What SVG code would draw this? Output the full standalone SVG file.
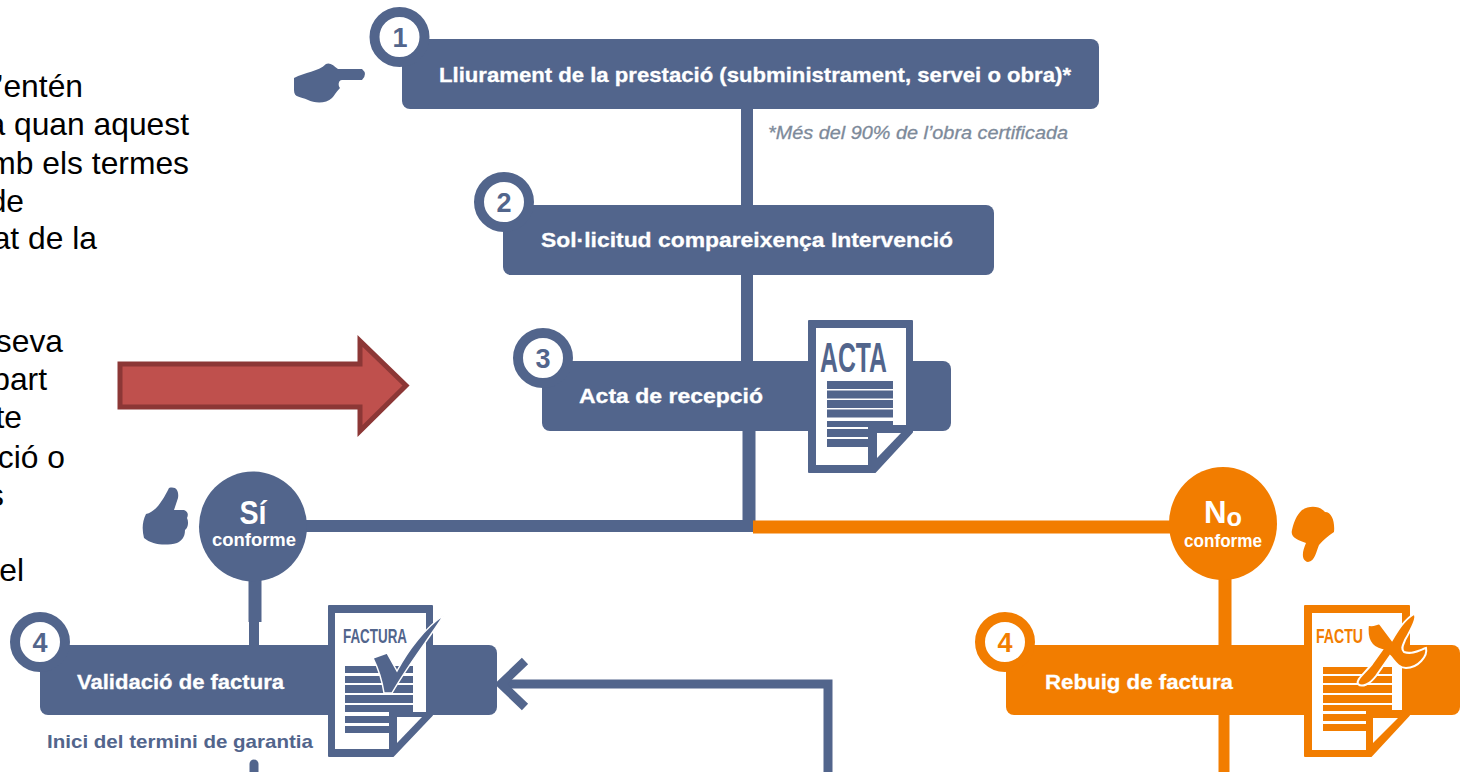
<svg xmlns="http://www.w3.org/2000/svg" width="1460" height="772" viewBox="0 0 1460 772">
<style>
text{font-family:"Liberation Sans",Arial,sans-serif}
.body{font-size:31.800px;fill:#000;text-anchor:end}
.lbl{font-size:21px;font-weight:700;fill:#fff;stroke:#fff;stroke-width:.3}
.num{font-size:27px;font-weight:700;text-anchor:middle}
.b{fill:#52658c}.o{fill:#f27d00}
.bs{stroke:#52658c;fill:none}.os{stroke:#f27d00;fill:none}
.w{fill:#fff}
.cond{font-weight:700}
</style>
<g id="body-text" class="body">
<text x="83" y="97">’entén</text>
<text x="189" y="135">a quan aquest</text>
<text x="189" y="174">mb els termes</text>
<text x="24" y="212">de</text>
<text x="97" y="249">at de la</text>
<text x="63" y="352">seva</text>
<text x="47" y="390">part</text>
<text x="22" y="428">te</text>
<text x="65" y="468">ció o</text>
<text x="4" y="506">s</text>
<text x="24" y="581">el</text>
</g>
<path id="red-arrow" d="M120 364H360V341L406 385.500L360 431V407H120Z" fill="#bf504d" stroke="#8c3736" stroke-width="5"/>
<g id="connectors">
<path class="bs" stroke-width="12" d="M747 105V210"/>
<path class="bs" stroke-width="12" d="M747 270V365"/>
<path class="bs" stroke-width="13" d="M749 425V527"/>
<path class="bs" stroke-width="12" d="M300 526H754"/>
<path class="os" stroke-width="13" d="M753 527H1175"/>
<path class="bs" stroke-width="13" d="M255 575V622"/><path class="bs" stroke-width="10" d="M254 620V650"/>
<path class="os" stroke-width="13" d="M1225 575V650"/>
<path class="os" stroke-width="11" d="M1224 710V772"/>
<path class="bs" stroke-width="9" d="M828 772V684H505"/>
<path class="bs" stroke-width="9" d="M525 661L501 684L525 707"/>
<path class="bs" stroke-width="9" stroke-linecap="round" d="M254 764V772"/>
</g>
<g id="node-1">
<rect class="b" x="402" y="39" width="697" height="70" rx="8"/>
<circle class="w" cx="399.500" cy="37" r="25" stroke="#52658c" stroke-width="10"/>
<text class="num b" x="400" y="47">1</text>
<text class="lbl" x="439" y="82" textLength="632" lengthAdjust="spacingAndGlyphs">Lliurament de la prestació (subministrament, servei o obra)*</text>
<path class="b" d="M294 78C305 72 318 72 326 64C330 62 334 66 338 69H362Q368 74 362 80H342C338 80 338 86 340 88C336 92 334 96 332 98C326 104 314 103 308 100C300 96 294 98 294 90Z"/>
<text x="768" y="139" font-size="18" font-style="italic" fill="#7d8a9a" stroke="#7d8a9a" stroke-width=".3" textLength="300" lengthAdjust="spacingAndGlyphs">*Més del 90% de l’obra certificada</text>
</g>
<g id="node-2">
<rect class="b" x="503" y="205" width="491" height="70" rx="8"/>
<circle class="w" cx="504" cy="202" r="25" stroke="#52658c" stroke-width="10"/>
<text class="num b" x="504" y="212">2</text>
<text class="lbl" x="541" y="247" textLength="412" lengthAdjust="spacingAndGlyphs">Sol·licitud compareixença Intervenció</text>
</g>
<g id="node-3">
<rect class="b" x="542" y="361" width="409" height="70" rx="8"/>
<circle class="w" cx="543" cy="358" r="25" stroke="#52658c" stroke-width="10"/>
<text class="num b" x="543" y="368">3</text>
<text class="lbl" x="579" y="403" textLength="184" lengthAdjust="spacingAndGlyphs">Acta de recepció</text>
<path class="b" stroke="#52658c" stroke-width="2" stroke-linejoin="round" d="M809 321H912V432L875 472H809Z"/>
<path class="w" d="M816 328H906V425H868V465H816Z"/>
<path class="w" d="M877 433H901L877 458Z"/>
<text class="cond b" x="820" y="372" font-size="42" textLength="67" lengthAdjust="spacingAndGlyphs">ACTA</text>
<g class="b"><rect x="827" y="381" width="66" height="8"/><rect x="827" y="390.500" width="66" height="8"/><rect x="827" y="400" width="66" height="8"/><rect x="827" y="409.500" width="66" height="8"/><rect x="827" y="421" width="66" height="6"/><rect x="827" y="429" width="43" height="8"/><rect x="827" y="439" width="43" height="8"/></g>
</g>
<g id="node-si">
<ellipse class="b" cx="253" cy="526.500" rx="54" ry="55"/>
<text x="253" y="524" font-size="33" font-weight="700" class="w" text-anchor="middle" textLength="27" lengthAdjust="spacingAndGlyphs">Sí</text>
<text x="254" y="546" font-size="18" font-weight="700" class="w" text-anchor="middle" textLength="84" lengthAdjust="spacingAndGlyphs">conforme</text>
<path class="b" d="M169 488C177 486 179 492 178 498L174 510H184C189 512 188 516 187 518C189 522 188 528 185 530C185 538 181 541 177 543C166 546 152 545 144 538C142 530 142 522 146 514C156 512 163 500 169 488Z"/>
</g>
<g id="node-no">
<ellipse class="o" cx="1223" cy="523.500" rx="54" ry="56.500"/>
<text x="1223" y="523" font-size="32" font-weight="700" class="w" text-anchor="middle" textLength="38" lengthAdjust="spacingAndGlyphs">N<tspan font-size="26" dy="3">o</tspan></text>
<text x="1223" y="547" font-size="18" font-weight="700" class="w" text-anchor="middle" textLength="78" lengthAdjust="spacingAndGlyphs">conforme</text>
<path class="o" d="M1302 510C1310 505 1320 506 1325 512C1332 512 1335 522 1334 532C1328 536 1323 540 1319 545C1316 552 1315 561 1308 562C1301 560 1302 552 1306 543C1298 540 1290 538 1292 530C1294 522 1296 516 1302 510Z"/>
</g>
<g id="node-4a">
<rect class="b" x="40" y="645" width="457" height="70" rx="8"/>
<circle class="w" cx="40" cy="642" r="25" stroke="#52658c" stroke-width="10"/>
<text class="num b" x="40" y="652">4</text>
<text class="lbl" x="77" y="689" textLength="207" lengthAdjust="spacingAndGlyphs">Validació de factura</text>
<text x="47" y="748" font-size="19" font-weight="700" fill="#52658c" textLength="266" lengthAdjust="spacingAndGlyphs">Inici del termini de garantia</text>
<path class="b" stroke="#52658c" stroke-width="2" stroke-linejoin="round" d="M329 606H432V715L393 756H329Z"/>
<path class="w" d="M335 613H426V712H389V749H335Z"/>
<path class="w" d="M397 717H422L397 743Z"/>
<text class="cond b" x="343" y="643" font-size="21" textLength="64" lengthAdjust="spacingAndGlyphs">FACTURA</text>
<g class="b"><rect x="345" y="666" width="68" height="7"/><rect x="345" y="676" width="68" height="7"/><rect x="345" y="685" width="68" height="8"/><rect x="345" y="695" width="68" height="8"/><rect x="345" y="705" width="68" height="7"/><rect x="345" y="716" width="44" height="7"/><rect x="345" y="726" width="44" height="7"/></g>
<path class="b" d="M373 658L387 653L397 671C408 650 425 628 444 615C428 640 408 665 392 693H384C382 680 378 668 373 658Z" stroke="#fff" stroke-width="1.500"/>
</g>
<g id="node-4b">
<rect class="o" x="1006" y="645" width="454" height="70" rx="8"/>
<circle class="w" cx="1005" cy="642" r="25" stroke="#f27d00" stroke-width="10"/>
<text class="num o" x="1005" y="652">4</text>
<text class="lbl" x="1045" y="689" textLength="188" lengthAdjust="spacingAndGlyphs">Rebuig de factura</text>
<path class="o" stroke="#f27d00" stroke-width="2" stroke-linejoin="round" d="M1305 606H1409V715L1371 756H1305Z"/>
<path class="w" d="M1312 613H1402V710H1366V750H1312Z"/>
<path class="w" d="M1373 718H1398L1373 743Z"/>
<text class="cond o" x="1316" y="643" font-size="21" textLength="47" lengthAdjust="spacingAndGlyphs">FACTU</text>
<g class="o"><rect x="1323" y="667" width="69" height="7"/><rect x="1323" y="676" width="69" height="7"/><rect x="1323" y="685" width="69" height="8"/><rect x="1323" y="695" width="69" height="8"/><rect x="1323" y="705" width="69" height="6"/><rect x="1323" y="714" width="43" height="7"/><rect x="1323" y="724" width="43" height="7"/></g>
<path class="o" d="M1368 624C1372 628 1378 622 1380 624L1392 640C1398 630 1404 620 1414 614C1418 616 1412 628 1405 640C1404 644 1400 648 1404 652C1412 655 1420 650 1426 648C1428 656 1418 668 1406 668C1398 668 1394 660 1390 656L1376 676C1370 684 1362 688 1358 684C1356 680 1362 676 1372 664L1382 650C1372 648 1366 640 1368 624Z" stroke="#fff" stroke-width="2"/>
</g>
</svg>
